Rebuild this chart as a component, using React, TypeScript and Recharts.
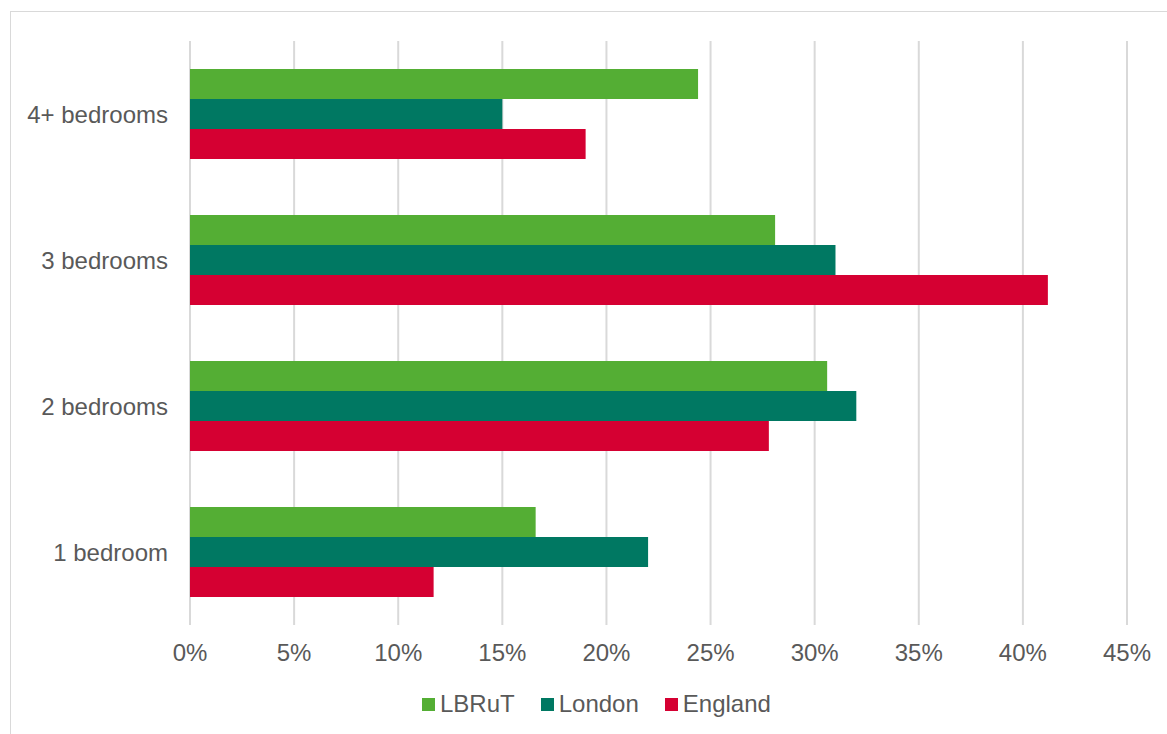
import React from 'react';
import { BarChart, Bar, XAxis, YAxis, CartesianGrid } from 'recharts';

const categories = ['4+ bedrooms', '3 bedrooms', '2 bedrooms', '1 bedroom'];
const lbrut = [24.4, 28.1, 30.6, 16.6];
const london = [15.0, 31.0, 32.0, 22.0];
const england = [19.0, 41.2, 27.8, 11.7];
const xTicks = [0, 5, 10, 15, 20, 25, 30, 35, 40, 45];

const series = [
  { key: 'lbrut', name: 'LBRuT', color: '#54AE34' },
  { key: 'london', name: 'London', color: '#007862' },
  { key: 'england', name: 'England', color: '#D50032' },
];

const data = categories.map((name, i) => ({
  name,
  lbrut: lbrut[i],
  london: london[i],
  england: england[i],
}));

const font = '"Liberation Sans", Arial, sans-serif';
const textColor = '#595959';

const App = () => {
  return (
    <div style={{ position: 'absolute', left: 0, top: 0, width: 1167, height: 734, overflow: 'hidden', background: '#fff', fontFamily: font }}>
      {/* outer frame */}
      <div style={{ position: 'absolute', left: 10, top: 11, width: 1170, height: 740, border: '1.5px solid #d9d9d9' }} />

      <BarChart
        width={1167}
        height={734}
        data={data}
        layout="vertical"
        margin={{ top: 41, right: 40, left: 0, bottom: 69 }}
        barCategoryGap={28}
        barGap={0}
        style={{ position: 'absolute', left: 0, top: 0 }}
      >
        <CartesianGrid horizontal={false} stroke="#d9d9d9" strokeWidth={2} />
        <XAxis
          type="number"
          domain={[0, 45]}
          ticks={xTicks}
          tickFormatter={(v: number) => v + '%'}
          axisLine={false}
          tickLine={false}
          tickMargin={13}
          height={40}
          tick={{ fill: textColor, fontSize: 24, fontFamily: font }}
        />
        <YAxis
          type="category"
          dataKey="name"
          width={190}
          axisLine={false}
          tickLine={false}
          tickMargin={16}
          tick={{ fill: textColor, fontSize: 24, fontFamily: font }}
        />
        {series.map((s) => (
          <Bar key={s.key} dataKey={s.key} name={s.name} fill={s.color} isAnimationActive={false} />
        ))}
      </BarChart>

      {/* legend */}
      <div style={{ position: 'absolute', left: 422, top: 690, display: 'flex', alignItems: 'center', height: 28 }}>
        {series.map((s) => (
          <div key={s.key} style={{ display: 'flex', alignItems: 'center', marginRight: 26 }}>
            <div style={{ width: 13, height: 13, background: s.color, marginRight: 5 }} />
            <span style={{ fontSize: 24, color: textColor, lineHeight: '28px' }}>{s.name}</span>
          </div>
        ))}
      </div>
    </div>
  );
};

export default App;
